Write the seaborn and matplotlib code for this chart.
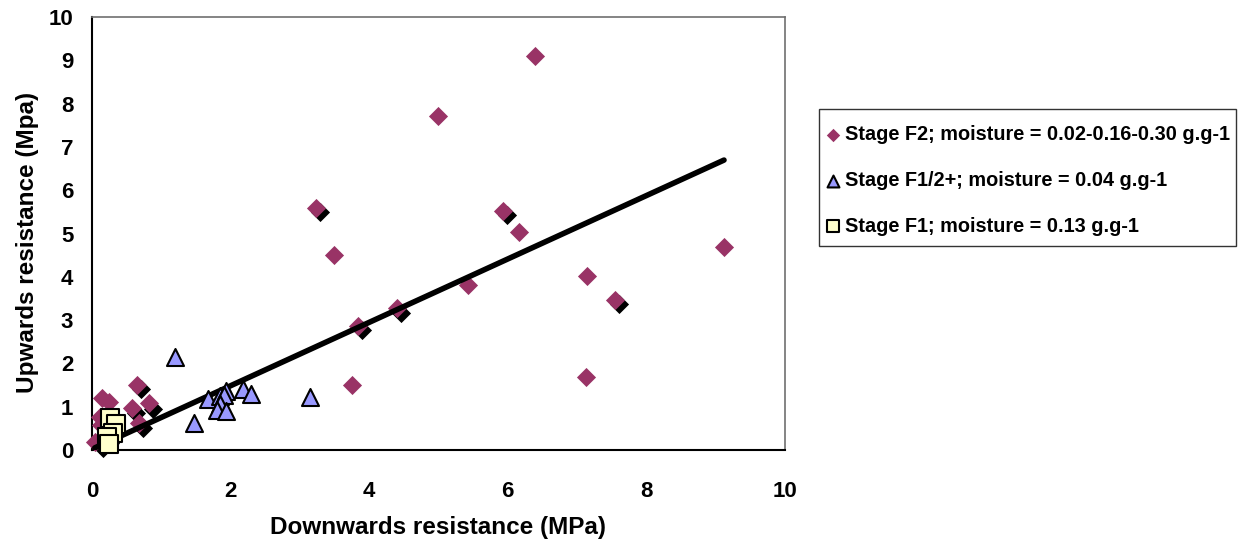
import numpy as np
import pandas as pd
import seaborn as sns
import matplotlib.pyplot as plt
from matplotlib.patches import Rectangle

# Stage F2 (magenta diamonds)
f2_down = [6.39, 4.99, 3.23, 3.49, 5.93, 6.16, 5.43, 7.14, 7.55, 9.12, 7.13, 4.40,
           3.84, 3.75, 0.65, 0.14, 0.25, 0.57, 0.82, 0.68, 0.12, 0.13, 0.04]
f2_up = [9.10, 7.71, 5.59, 4.50, 5.52, 5.03, 3.81, 4.02, 3.46, 4.69, 1.69, 3.28,
         2.86, 1.50, 1.50, 1.20, 1.11, 0.98, 1.08, 0.63, 0.76, 0.58, 0.19]

# black diamonds sitting just behind some of the F2 points
dark_down = [3.29, 5.99, 7.60, 4.46, 3.90, 0.71, 0.63, 0.88, 0.74, 0.16, 0.26]
dark_up = [5.50, 5.43, 3.37, 3.16, 2.77, 1.41, 0.85, 0.94, 0.50, 0.04, 0.16]

# Stage F1/2+ (blue triangles)
f12_down = [1.20, 1.47, 1.68, 1.85, 1.93, 1.90, 1.84, 1.80, 1.94, 2.18, 2.29, 3.15]
f12_up = [2.14, 0.62, 1.18, 1.25, 1.37, 1.27, 1.06, 0.92, 0.91, 1.40, 1.29, 1.23]

# Stage F1 (yellow squares)
f1_down = [0.26, 0.35, 0.31, 0.22, 0.24]
f1_up = [0.75, 0.60, 0.40, 0.29, 0.15]

# linear trend
trend_slope = 0.732
trend_intercept = 0.02

labels = ["Stage F2; moisture = 0.02-0.16-0.30 g.g-1",
          "Stage F1/2+; moisture = 0.04 g.g-1",
          "Stage F1; moisture = 0.13 g.g-1"]

sns.set_style("white")
plt.rcParams['font.family'] = ['Liberation Sans', 'DejaVu Sans']
plt.rcParams['font.weight'] = 'bold'
plt.rcParams['text.color'] = 'black'
plt.rcParams['axes.labelcolor'] = 'black'
plt.rcParams['xtick.color'] = 'black'
plt.rcParams['ytick.color'] = 'black'

W, H = 1241, 547
fig = plt.figure(figsize=(W / 100, H / 100), dpi=100)
ax = fig.add_axes([92 / W, 1 - 450 / H, 693 / W, 433 / H])

sns.scatterplot(x=dark_down, y=dark_up, marker='D', s=95, color='black',
                linewidth=0, legend=False, ax=ax, zorder=2, clip_on=False)
sns.scatterplot(x=f2_down, y=f2_up, marker='D', s=95, color='#993366',
                linewidth=0, ax=ax, zorder=3, label=labels[0], clip_on=False)

all_x = np.array(f2_down + f12_down + f1_down)
xs = np.array([all_x.min(), all_x.max()])
trend = pd.DataFrame({'x': xs, 'y': trend_slope * xs + trend_intercept})
sns.lineplot(data=trend, x='x', y='y', color='black', linewidth=4,
             ax=ax, zorder=4, legend=False)

sns.scatterplot(x=f12_down, y=f12_up, marker='^', s=150, color='#9999FF',
                edgecolor='black', linewidth=1.5, ax=ax, zorder=5, label=labels[1],
                clip_on=False)
sns.scatterplot(x=f1_down, y=f1_up, marker='s', s=150, color='#FFFFCC',
                edgecolor='black', linewidth=1.5, ax=ax, zorder=6, label=labels[2],
                clip_on=False)

ax.set_xlim(0, 10)
ax.set_ylim(0, 10)
ax.set_xticks(range(0, 11, 2))
ax.set_yticks(range(0, 11))
ax.tick_params(axis='both', direction='out', length=6, width=1.2, color='#555555',
               labelsize=16, labelcolor='black')
ax.tick_params(axis='y', pad=7.5)
ax.tick_params(axis='x', pad=16)
for lab in ax.get_xticklabels() + ax.get_yticklabels():
    lab.set_fontweight('bold')

for side in ['left', 'bottom']:
    ax.spines[side].set_color('black')
    ax.spines[side].set_linewidth(1.5)
for side in ['top', 'right']:
    ax.spines[side].set_color('#707070')
    ax.spines[side].set_linewidth(1.2)

ax.set_xlabel("Downwards resistance (MPa)", fontsize=17.5, fontweight='bold')
ax.set_ylabel("Upwards resistance (Mpa)", fontsize=17.5, fontweight='bold')
ax.xaxis.set_label_coords(0.5, -0.152)
ax.yaxis.set_label_coords(-0.076, 0.479)

handles, _ = ax.get_legend_handles_labels()
ax.legend_.remove()
leg = fig.legend(handles, labels, loc='upper left',
                 bbox_to_anchor=(827 / W, 1 - 125 / H),
                 frameon=False, fontsize=14.3,
                 markerscale=0.7, handlelength=0.6, handletextpad=0.3,
                 labelspacing=1.35, borderpad=0, borderaxespad=0)
for t in leg.get_texts():
    t.set_fontweight('bold')

# legend box
fig.patches.append(Rectangle((819 / W, 1 - 246 / H), 417 / W, 137 / H,
                             transform=fig.transFigure, fill=False,
                             edgecolor='#333333', linewidth=1.0))

fig.savefig("out.png", dpi=100)
